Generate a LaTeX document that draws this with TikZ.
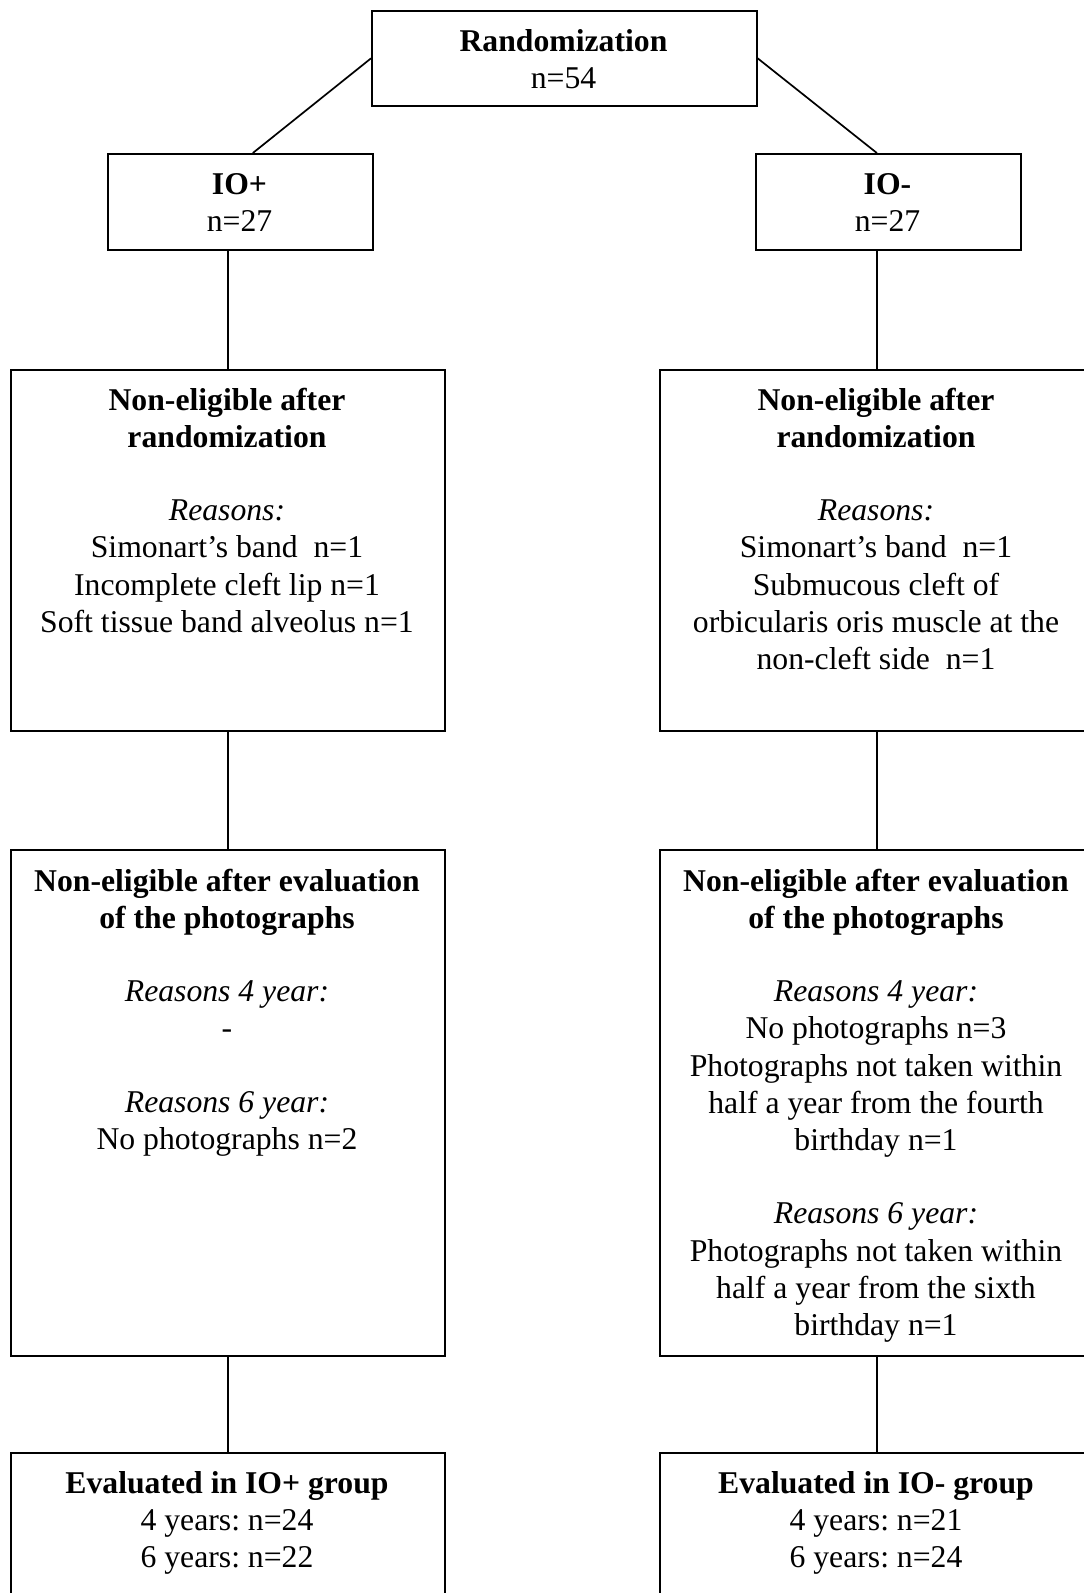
\documentclass[tikz,border=0pt]{standalone}
\usepackage{fontspec}
\setmainfont{Liberation Serif}
\frenchspacing
\begin{document}
\begin{tikzpicture}[x=1pt,y=-1pt,
  box/.style={draw, line width=1.7pt, anchor=north west, inner sep=0pt},
  conn/.style={line width=1.7pt},
  txt/.style={anchor=base, inner sep=0pt, font=\fontsize{31.7}{37.2}\selectfont\frenchspacing}]
\clip (0,0) rectangle (1084,1593);
% boxes
\node[box, minimum width=385, minimum height=95] (rand) at (371,10) {};
\node[box, minimum width=265, minimum height=96] (iop) at (107,153) {};
\node[box, minimum width=265, minimum height=96] (iom) at (755,153) {};
\node[box, minimum width=434, minimum height=361] (nal) at (10,369) {};
\node[box, minimum width=434, minimum height=361] (nar) at (659,369) {};
\node[box, minimum width=434, minimum height=506] (nbl) at (10,849) {};
\node[box, minimum width=434, minimum height=506] (nbr) at (659,849) {};
\node[box, minimum width=434, minimum height=200] (evl) at (10,1452) {};
\node[box, minimum width=434, minimum height=200] (evr) at (659,1452) {};
% connectors
\draw[conn] (rand.west) -- ([xshift=12.5pt]iop.north);
\draw[conn] (rand.east) -- ([xshift=-11.5pt]iom.north);
\draw[conn] (nal.north) -- (nal.north |- iop.south);
\draw[conn] (nar.north) -- (nar.north |- iom.south);
\draw[conn] (nbl.north) -- (nal.south);
\draw[conn] (nbr.north) -- (nar.south);
\draw[conn] (evl.north) -- (nbl.south);
\draw[conn] (evr.north) -- (nbr.south);
% texts
\node[txt] (trand) at (563.5,51) {\begin{tabular}[t]{@{}c@{}}\textbf{Randomization}\\ n=54\end{tabular}};
\node[txt] (tiop) at (239.5,194) {\begin{tabular}[t]{@{}c@{}}\textbf{IO+}\\ n=27\end{tabular}};
\node[txt] (tiom) at (887.5,194) {\begin{tabular}[t]{@{}c@{}}\textbf{IO-}\\ n=27\end{tabular}};
\node[txt] (tnal) at (227,410) {\begin{tabular}[t]{@{}c@{}}\textbf{Non-eligible after}\\ \textbf{randomization}\\[-1pt] \\ \textit{Reasons:}\\ Simonart’s band\ \ n=1\\ Incomplete cleft lip n=1\\ Soft tissue band alveolus n=1\end{tabular}};
\node[txt] (tnar) at (876,410) {\begin{tabular}[t]{@{}c@{}}\textbf{Non-eligible after}\\ \textbf{randomization}\\[-1pt] \\ \textit{Reasons:}\\ Simonart’s band\ \ n=1\\ Submucous cleft of\\ orbicularis oris muscle at the\\ non-cleft side\ \ n=1\end{tabular}};
\node[txt] (tnbl) at (227,891) {\begin{tabular}[t]{@{}c@{}}\textbf{Non-eligible after evaluation}\\ \textbf{of the photographs}\\[-1pt] \\ \textit{Reasons 4 year:}\\ -\\[-1pt] \\ \textit{Reasons 6 year:}\\ No photographs n=2\end{tabular}};
\node[txt] (tnbr) at (876,891) {\begin{tabular}[t]{@{}c@{}}\textbf{Non-eligible after evaluation}\\ \textbf{of the photographs}\\[-1pt] \\ \textit{Reasons 4 year:}\\ No photographs n=3\\ Photographs not taken within\\ half a year from the fourth\\ birthday n=1\\[-1pt] \\ \textit{Reasons 6 year:}\\ Photographs not taken within\\ half a year from the sixth\\ birthday n=1\end{tabular}};
\node[txt] (tevl) at (227,1493) {\begin{tabular}[t]{@{}c@{}}\textbf{Evaluated in IO+ group}\\ 4 years: n=24\\ 6 years: n=22\end{tabular}};
\node[txt] (tevr) at (876,1493) {\begin{tabular}[t]{@{}c@{}}\textbf{Evaluated in IO- group}\\ 4 years: n=21\\ 6 years: n=24\end{tabular}};
\end{tikzpicture}
\end{document}
